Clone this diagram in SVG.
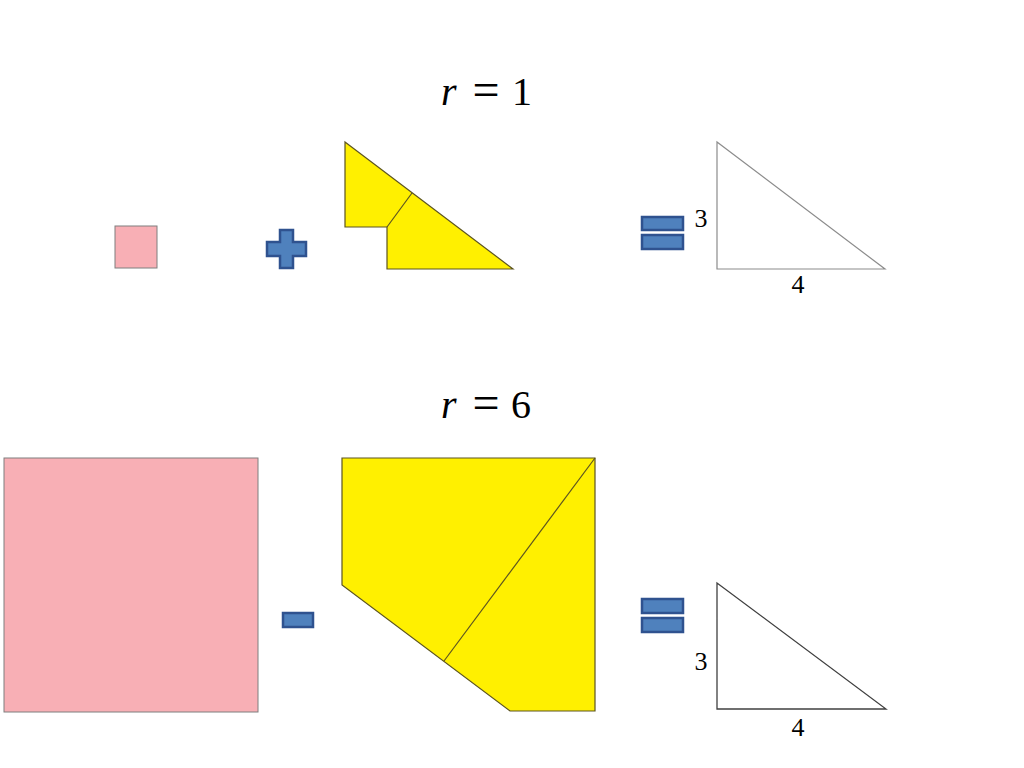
<svg xmlns="http://www.w3.org/2000/svg" width="1024" height="768" viewBox="0 0 1024 768">
<style>
.title{font-family:"Liberation Serif","DejaVu Serif",serif;font-size:40px;fill:#000}
.eq{font-size:48px}
.it{font-style:italic}
.lbl{font-family:"Liberation Serif","DejaVu Serif",serif;font-size:26px;fill:#000}
.pink{fill:#F8AFB5;stroke:#7F7F7F;stroke-width:1}
.yel{fill:#FFF000;stroke:#5C5420;stroke-width:1.2;stroke-linejoin:miter}
.div{stroke:#5C5420;stroke-width:1.2;fill:none}
.op{fill:#4F81BD;stroke:#2F528F;stroke-width:2.5}
.tri1{fill:#fff;stroke:#8C8C8C;stroke-width:1.2}
.tri2{fill:#fff;stroke:#404040;stroke-width:1.3}
</style>
<rect width="1024" height="768" fill="#fff"/>
<g id="title1">
<text class="title it" x="441" y="105">r</text>
<text class="title eq" x="486" y="106" text-anchor="middle">=</text>
<text class="title" x="522" y="105" text-anchor="middle">1</text>
</g>
<g id="title2">
<text class="title it" x="441" y="418">r</text>
<text class="title eq" x="486" y="419" text-anchor="middle">=</text>
<text class="title" x="521" y="418" text-anchor="middle">6</text>
</g>
<g id="square1"><rect class="pink" x="115" y="226" width="42" height="42"/></g>
<g id="plus"><path class="op" d="M280,230 H293 V242 H306 V256 H293 V268 H280 V256 H267 V242 H280 Z"/></g>
<g id="yellow1">
<path class="yel" d="M345,142 L513,269 L387,269 L387,227 L345,227 Z"/>
<line class="div" x1="387" y1="227" x2="412" y2="193"/>
</g>
<g id="equals1">
<rect class="op" x="642" y="217" width="41" height="13"/>
<rect class="op" x="642" y="235" width="41" height="14"/>
</g>
<g id="triangle1">
<path class="tri1" d="M717,142 L717,269 L885,269 Z"/>
<text class="lbl" x="701" y="227" text-anchor="middle">3</text>
<text class="lbl" x="798" y="293" text-anchor="middle">4</text>
</g>
<g id="square2"><rect class="pink" x="4" y="458" width="254" height="254"/></g>
<g id="minus"><rect class="op" x="283" y="613" width="30" height="14"/></g>
<g id="yellow2">
<path class="yel" d="M342,458 L595,458 L595,711 L510,711 L342,585 Z"/>
<line class="div" x1="595" y1="458" x2="444" y2="661"/>
</g>
<g id="equals2">
<rect class="op" x="642" y="599" width="41" height="14"/>
<rect class="op" x="642" y="618" width="41" height="14"/>
</g>
<g id="triangle2">
<path class="tri2" d="M717,583 L717,709 L886,709 Z"/>
<text class="lbl" x="701" y="670" text-anchor="middle">3</text>
<text class="lbl" x="798" y="736" text-anchor="middle">4</text>
</g>
<g id="connectors"></g>
</svg>
